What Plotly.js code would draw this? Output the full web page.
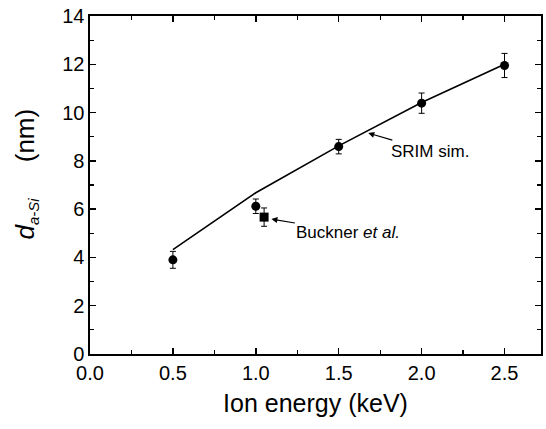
<!DOCTYPE html>
<html>
<head>
<meta charset="utf-8">
<script src="https://cdn.plot.ly/plotly-3.0.1.min.js"></script>
<style>html,body{margin:0;padding:0;background:#fff;}#chart{width:546px;height:429px;}</style>
</head>
<body>
<div id="chart"></div>
<script>
// Measured data (ion energy in keV, thickness in nm)
const measEnergy = [0.5, 1.0, 1.5, 2.0, 2.5];
const measThick  = [3.90, 6.12, 8.59, 10.39, 11.95];
const measErr    = [0.35, 0.30, 0.30, 0.42, 0.50];

const bucknerEnergy = [1.05];
const bucknerThick  = [5.67];
const bucknerErr    = [0.38];

const srimEnergy = [0.5, 1.0, 1.5, 2.0, 2.5];
const srimThick  = [4.32, 6.68, 8.62, 10.42, 12.0];

const xTickVals = [0, 0.5, 1.0, 1.5, 2.0, 2.5];
const yTickVals = [0, 2, 4, 6, 8, 10, 12, 14];

const FONT = '"Liberation Sans", Arial, Helvetica, sans-serif';

const traces = [
  {x: srimEnergy, y: srimThick, mode: 'lines', type: 'scatter',
   line: {color: '#000', width: 1.6}, showlegend: false, hoverinfo: 'skip'},
  {x: measEnergy, y: measThick, mode: 'markers', type: 'scatter',
   marker: {symbol: 'circle', size: 9, color: '#000'},
   error_y: {type: 'data', array: measErr, visible: true, color: '#000', thickness: 1, width: 3},
   showlegend: false},
  {x: bucknerEnergy, y: bucknerThick, mode: 'markers', type: 'scatter',
   marker: {symbol: 'square', size: 9, color: '#000'},
   error_y: {type: 'data', array: bucknerErr, visible: true, color: '#000', thickness: 1, width: 3},
   showlegend: false}
];

const axisCommon = {
  showgrid: false, zeroline: false, showline: true, linecolor: '#000', linewidth: 1.6,
  mirror: 'ticks', ticks: 'inside', ticklen: 6, tickwidth: 1.4, tickcolor: '#000',
  tickfont: {family: FONT, size: 20, color: '#000'}
};

const layout = {
  width: 546, height: 429,
  margin: {l: 90, r: 5, t: 16, b: 75},
  paper_bgcolor: '#fff', plot_bgcolor: '#fff',
  font: {family: FONT, color: '#000'},
  xaxis: Object.assign({}, axisCommon, {
    range: [0, 2.72], tickvals: xTickVals, tickformat: '.1f',
    minor: {dtick: 0.25, tick0: 0, ticks: 'inside', ticklen: 4, tickwidth: 1.2, tickcolor: '#000'},
    title: {text: 'Ion energy (keV)', font: {family: FONT, size: 25, color: '#000'}, standoff: 12}
  }),
  yaxis: Object.assign({}, axisCommon, {
    range: [0, 14], tickvals: yTickVals,
    minor: {dtick: 1, tick0: 0, ticks: 'inside', ticklen: 4, tickwidth: 1.2, tickcolor: '#000'},
    title: {text: '&nbsp;&nbsp;&nbsp;<i>d</i><sub><span style="font-size:15px"><i>a-Si</i></span></sub>     (nm)', font: {family: FONT, size: 26, color: '#000'}, standoff: 20}
  }),
  annotations: [
    {x: 1.678, y: 9.15, xref: 'x', yref: 'y', text: 'SRIM sim.', showarrow: true,
     ax: 62, ay: 18, arrowhead: 2, arrowsize: 1, arrowwidth: 1.2, arrowcolor: '#000',
     font: {family: FONT, size: 17, color: '#000'}},
    {x: 1.094, y: 5.59, xref: 'x', yref: 'y', text: 'Buckner <i>et al.</i>', showarrow: true,
     ax: 77, ay: 13, arrowhead: 2, arrowsize: 1, arrowwidth: 1.2, arrowcolor: '#000',
     font: {family: FONT, size: 17, color: '#000'}}
  ]
};

Plotly.newPlot('chart', traces, layout, {displayModeBar: false, staticPlot: true});
</script>
</body>
</html>
